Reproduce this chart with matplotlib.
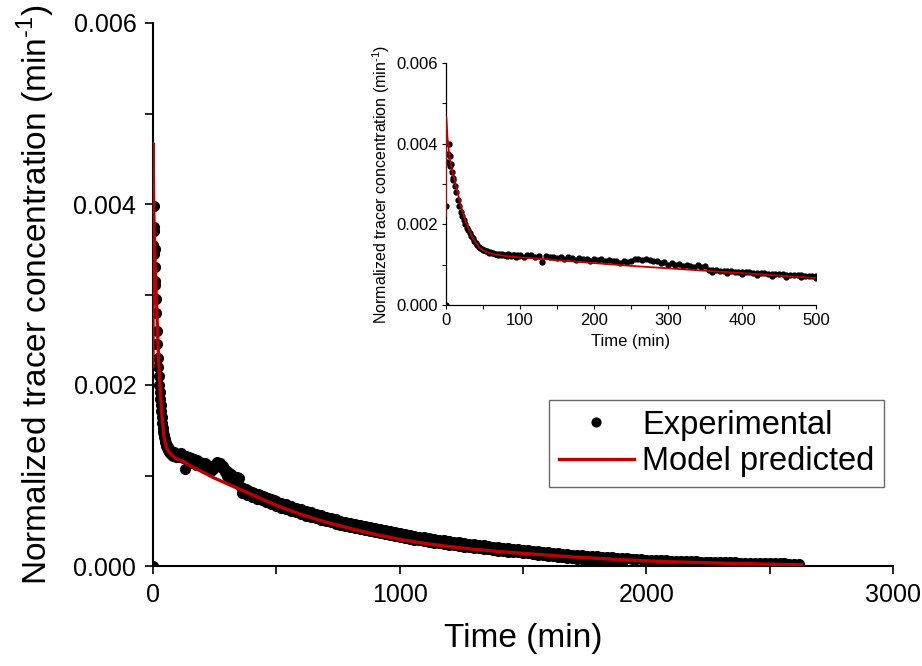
import numpy as np
import matplotlib
matplotlib.use("Agg")
import matplotlib.pyplot as plt
from matplotlib.ticker import MultipleLocator, FormatStrFormatter

plt.rcParams['font.family'] = ['Liberation Sans', 'DejaVu Sans']
plt.rcParams['mathtext.fontset'] = 'custom'
plt.rcParams['mathtext.rm'] = 'Liberation Sans'

# ---------------- data (concentrations in units of 1e-3 min^-1) ----------------
exp_time = [0, 0.5, 1.5, 2.5, 3.5, 5, 6, 7, 8, 9, 10,
            12, 14, 16, 18, 20, 22, 24, 26, 28, 30, 32, 34, 36, 38, 40, 42, 44, 46, 48,
            50, 52, 54, 56, 58, 60, 62, 64, 66, 68, 70, 72, 74, 76, 78, 80, 82, 84, 86, 88,
            90, 92, 94, 96, 98,
            100, 105, 110, 115, 120, 125, 130, 135, 140, 145, 150, 155, 160, 165, 170, 175,
            180, 185, 190, 195, 200, 205, 210, 215, 220, 225, 230, 235, 240, 245, 250, 255,
            260, 265, 270, 275, 280, 285, 290, 295, 300, 305, 310, 315, 320, 325, 330, 335,
            340, 345, 350,
            355, 360, 365, 370, 375, 380, 385, 390, 395, 400, 405, 410, 415, 420, 425, 430,
            435, 440, 445, 450, 455, 460, 465, 470, 475, 480, 485, 490, 495,
            500, 520, 540, 560, 580, 600, 620, 640, 660, 680, 700, 720, 740, 760, 780, 800,
            820, 840, 860, 880, 900, 920, 940, 960, 980, 1000, 1020, 1040, 1060, 1080, 1100,
            1120, 1140, 1160, 1180, 1200, 1220, 1240, 1260, 1280, 1300, 1320, 1340, 1360,
            1380, 1400, 1420, 1440, 1460, 1480, 1500, 1520, 1540, 1560, 1580, 1600, 1620,
            1640, 1660, 1680, 1700, 1720, 1740, 1760, 1780, 1800, 1820, 1840, 1860, 1880,
            1900, 1920, 1940, 1960, 1980, 2000, 2020, 2040, 2060, 2080, 2100, 2120, 2140,
            2160, 2180, 2200, 2220, 2240, 2260, 2280, 2300, 2320, 2340, 2360, 2380, 2400,
            2420, 2440, 2460, 2480, 2500, 2520, 2540, 2560, 2580, 2600, 2620]
exp_conc = [0.0, 2.45, 3.55, 3.75, 3.98, 3.70, 3.45, 3.50, 3.30, 3.15, 3.10,
            2.95, 2.80, 2.60, 2.45, 2.30, 2.20, 2.10, 2.00, 1.92, 1.85, 1.78, 1.71, 1.65, 1.58,
            1.53, 1.48, 1.45, 1.42, 1.40,
            1.37, 1.36, 1.33, 1.33, 1.30, 1.31, 1.28, 1.29, 1.26, 1.27, 1.25, 1.27, 1.24, 1.26,
            1.23, 1.25, 1.22, 1.26, 1.24, 1.21,
            1.25, 1.23, 1.20, 1.24, 1.22,
            1.24, 1.20, 1.23, 1.25, 1.19, 1.22, 1.07, 1.21, 1.18, 1.20, 1.16, 1.19, 1.14, 1.18,
            1.16, 1.12, 1.17, 1.13, 1.15, 1.10, 1.13, 1.11, 1.14, 1.09, 1.12, 1.08, 1.10, 1.05,
            1.08, 1.07, 1.10, 1.13, 1.15, 1.12, 1.14, 1.11, 1.08, 1.10, 1.04, 1.06, 1.00, 1.04,
            0.98, 1.02, 0.96, 1.00, 0.97, 0.93, 0.98, 0.95, 0.97,
            0.870, 0.864, 0.858, 0.852, 0.846, 0.840, 0.834, 0.828, 0.822, 0.816, 0.811, 0.806,
            0.801, 0.796, 0.791, 0.786, 0.780, 0.775, 0.770, 0.765, 0.760, 0.755, 0.750, 0.745,
            0.740, 0.735, 0.730, 0.726, 0.723,
            0.720, 0.700, 0.681, 0.662, 0.643, 0.625, 0.608, 0.592, 0.576, 0.560, 0.545, 0.531,
            0.516, 0.502, 0.488, 0.475, 0.462, 0.450, 0.438, 0.426, 0.415, 0.404, 0.393, 0.382,
            0.371, 0.360, 0.351, 0.342, 0.333, 0.324, 0.315, 0.307, 0.299, 0.291, 0.283, 0.275,
            0.268, 0.261, 0.254, 0.247, 0.240, 0.234, 0.227, 0.221, 0.214, 0.208, 0.202, 0.197,
            0.191, 0.186, 0.180, 0.174, 0.169, 0.163, 0.158, 0.152, 0.147, 0.142, 0.137, 0.132,
            0.127, 0.123, 0.118, 0.114, 0.110, 0.106, 0.102, 0.098, 0.094, 0.090, 0.086, 0.083,
            0.079, 0.076, 0.073, 0.070, 0.068, 0.066, 0.063, 0.061, 0.059, 0.057, 0.055, 0.053,
            0.051, 0.050, 0.048, 0.047, 0.046, 0.044, 0.043, 0.042, 0.041, 0.039, 0.038, 0.037,
            0.036, 0.035, 0.034, 0.032, 0.031, 0.030, 0.029, 0.028, 0.027, 0.026, 0.025]

# lower branch of the experimental band
exp2_time = [360, 380, 400, 420, 440, 460, 480, 500, 520, 540, 560, 580, 600, 620, 640, 660,
             680, 700, 720, 740, 760, 780, 800, 820, 840, 860, 880, 900, 920, 940, 960, 980,
             1000, 1020, 1040, 1060, 1080, 1100, 1120, 1140, 1160, 1180, 1200, 1220, 1240,
             1260, 1280, 1300, 1320, 1340, 1360, 1380, 1400, 1420, 1440, 1460, 1480, 1500,
             1520, 1540, 1560, 1580, 1600, 1620, 1640, 1660, 1680, 1700, 1720, 1740, 1760,
             1780, 1800, 1820, 1840, 1860, 1880, 1900]
exp2_conc = [0.810, 0.790, 0.765, 0.745, 0.725, 0.705, 0.685, 0.665, 0.645, 0.627, 0.609,
             0.592, 0.575, 0.558, 0.542, 0.527, 0.512, 0.497, 0.483, 0.469, 0.456, 0.443,
             0.430, 0.418, 0.406, 0.394, 0.383, 0.372, 0.361, 0.350, 0.339, 0.328,
             0.318, 0.309, 0.300, 0.291, 0.282, 0.273, 0.265, 0.257, 0.249, 0.241, 0.234,
             0.227, 0.220, 0.213, 0.207, 0.201, 0.195, 0.189, 0.183, 0.177, 0.171, 0.166,
             0.160, 0.155, 0.150, 0.144, 0.139, 0.133, 0.127, 0.121, 0.114, 0.108, 0.102,
             0.096, 0.090, 0.084, 0.078, 0.072, 0.066, 0.060, 0.054, 0.048, 0.042, 0.036,
             0.030, 0.025]

model_time = [0, 0.3, 1, 2, 4.5, 9, 13.6, 18, 22.7, 27, 32, 36, 41, 45, 50, 55, 64, 82, 100,
              127, 150, 200, 250, 300, 350, 400, 450, 500, 600, 700, 800, 900, 1000, 1100,
              1200, 1300, 1400, 1500, 1600, 1700, 1800, 1900, 2000, 2100, 2200, 2300, 2400,
              2500, 2630]
model_conc = [2.20, 4.67, 4.45, 4.15, 3.70, 3.28, 2.95, 2.62, 2.29, 2.04, 1.83, 1.67, 1.53,
              1.42, 1.36, 1.31, 1.26, 1.21, 1.18, 1.15, 1.11, 1.04, 0.97, 0.91, 0.85, 0.79,
              0.73, 0.67, 0.57, 0.485, 0.415, 0.35, 0.295, 0.25, 0.215, 0.185, 0.16, 0.14,
              0.12, 0.10, 0.085, 0.07, 0.057, 0.047, 0.039, 0.032, 0.026, 0.02, 0.013]

x_ticks_main = [0, 1000, 2000, 3000]
y_ticks = [0.000, 0.002, 0.004, 0.006]
x_ticks_inset = [0, 100, 200, 300, 400, 500]

SCALE = 1e-3
RED = '#C00000'
YLABEL = 'Normalized tracer concentration (min$^{\\mathregular{\u20101}}$)'

# ---------------- figure ----------------
fig = plt.figure(figsize=(9.22, 6.66), dpi=100)
ax = fig.add_axes([153/922, 100/666, 740/922, 543/666])

def style_axes(a, lw, tlen, tw, fs, pad):
    for s in ['top', 'right']:
        a.spines[s].set_visible(False)
    for s in ['left', 'bottom']:
        a.spines[s].set_linewidth(lw)
    a.tick_params(which='both', direction='out', length=tlen, width=tw,
                  labelsize=fs, pad=pad, top=False, right=False)

et = np.array(exp_time)
ec = np.array(exp_conc) * SCALE
e2t = np.array(exp2_time)
e2c = np.array(exp2_conc) * SCALE
mt = np.array(model_time)
mc = np.array(model_conc) * SCALE

ax.plot(et, ec, 'o', color='black', ms=7.0, mec='black', label='Experimental', zorder=2)
ax.plot(e2t, e2c, 'o', color='black', ms=7.0, mec='black', label='_nolegend_', zorder=2)
ax.plot(mt, mc, '-', color=RED, lw=2.4, label='Model predicted', zorder=3)

ax.set_xlim(0, 3000)
ax.set_ylim(0, 0.006)
ax.set_xticks(x_ticks_main)
ax.set_yticks(y_ticks)
ax.xaxis.set_minor_locator(MultipleLocator(500))
ax.yaxis.set_minor_locator(MultipleLocator(0.001))
ax.yaxis.set_major_formatter(FormatStrFormatter('%.3f'))
style_axes(ax, 1.5, 6, 1.2, 18, 6)
ax.set_xlabel('Time (min)', fontsize=24, labelpad=12)
ax.set_ylabel(YLABEL, fontsize=24, labelpad=12)

leg = ax.legend(loc='upper left', bbox_to_anchor=(549/922, 1 - 400/666),
                bbox_transform=fig.transFigure, fontsize=23.5, frameon=True, fancybox=False,
                edgecolor='#444444', borderpad=0.3, labelspacing=0.17, handlelength=2.3,
                handletextpad=0.25, borderaxespad=0, numpoints=1, markerscale=0.9)
leg.get_frame().set_linewidth(1.0)

# ---------------- inset ----------------
ins = fig.add_axes([446/922, (666-305)/666, 370/922, 242/666])
ins.plot(et, ec, 'o', color='black', ms=3.5, mec='black', zorder=2)
ins.plot(e2t, e2c, 'o', color='black', ms=3.5, mec='black', zorder=2)
ins.plot(mt, mc, '-', color=RED, lw=1.3, zorder=3)
ins.set_xlim(0, 500)
ins.set_ylim(0, 0.006)
ins.set_xticks(x_ticks_inset)
ins.set_yticks(y_ticks)
ins.xaxis.set_minor_locator(MultipleLocator(50))
ins.yaxis.set_minor_locator(MultipleLocator(0.001))
ins.yaxis.set_major_formatter(FormatStrFormatter('%.3f'))
style_axes(ins, 0.9, 3, 0.8, 12, 3)
ins.set_xlabel('Time (min)', fontsize=12, labelpad=4)
ins.set_ylabel(YLABEL, fontsize=11.5, labelpad=3)

fig.savefig('out.png', dpi=100)
